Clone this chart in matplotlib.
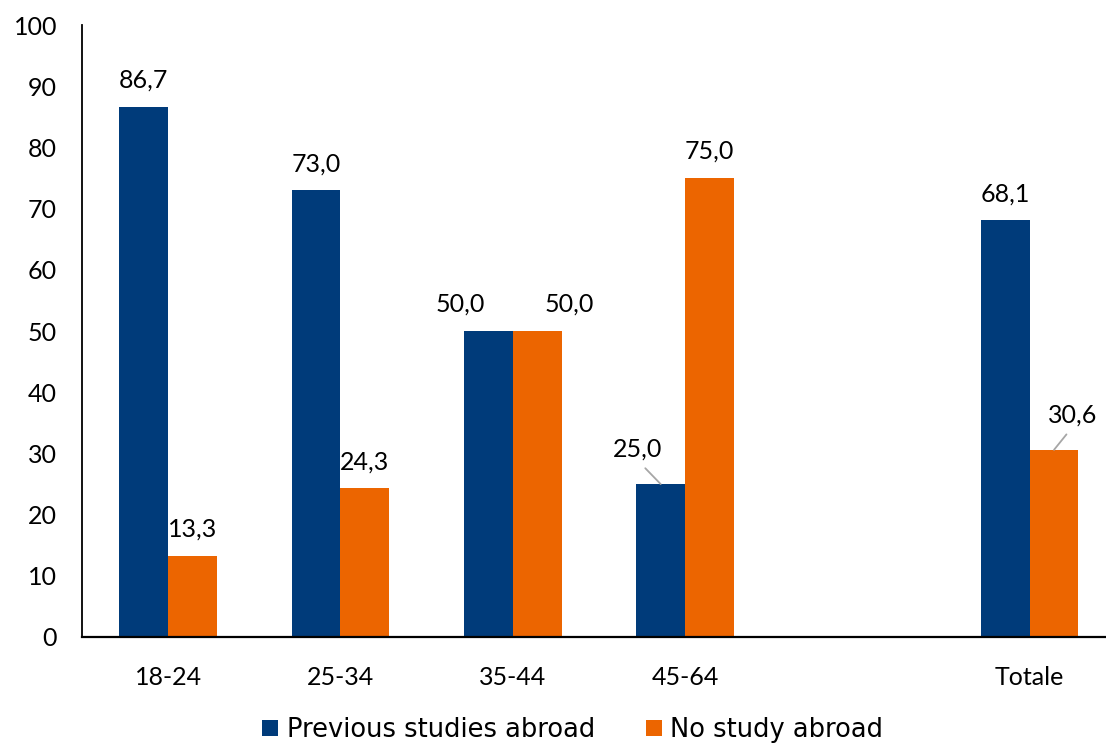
import matplotlib
matplotlib.use("Agg")
import matplotlib.pyplot as plt
import numpy as np

# Data: share (%) by age group, with an empty slot before the total
categories = ["18-24", "25-34", "35-44", "45-64", "", "Totale"]
previous_abroad = [86.7, 73.0, 50.0, 25.0, None, 68.1]
no_study_abroad = [13.3, 24.3, 50.0, 75.0, None, 30.6]
series_names = ["Previous studies abroad", "No study abroad"]
y_ticks = [0, 10, 20, 30, 40, 50, 60, 70, 80, 90, 100]

BLUE = "#003B7A"
ORANGE = "#EC6500"
FONT = "Lato"
FS = 18

plt.rcParams["font.family"] = [FONT, "DejaVu Sans"]

fig = plt.figure(figsize=(11.06, 7.45), dpi=100)
ax = fig.add_axes([82 / 1106, 108 / 745, 1024 / 1106, 611.7 / 745])

x = np.arange(len(categories))
width = 0.283


def fmt(v):
    return f"{v:.1f}".replace(".", ",")


def plot_series(values, offset, color, label):
    xs = [xi + offset for xi, v in zip(x, values) if v is not None]
    vs = [v for v in values if v is not None]
    return ax.bar(xs, vs, width=width, color=color, label=label, zorder=2)


bars_prev = plot_series(previous_abroad, -width / 2, BLUE, series_names[0])
bars_none = plot_series(no_study_abroad, width / 2, ORANGE, series_names[1])

ax.set_xlim(-0.5, -0.5 + 1024 / 172.3)
ax.set_ylim(0, 100)
ax.set_yticks(y_ticks)
ax.set_xticks(x)
ax.set_xticklabels(categories)
ax.tick_params(axis="y", length=0, pad=18, labelsize=FS)
ax.tick_params(axis="x", length=0, pad=21, labelsize=FS)

for side in ("top", "right"):
    ax.spines[side].set_visible(False)
ax.spines["left"].set_linewidth(1.3)
ax.spines["bottom"].set_linewidth(1.6)

# Label offsets in points (dx, dy); a True flag adds a grey leader line
label_offsets = {
    (0, 2): (-20, 11, False),
    (1, 2): (23, 11, False),
    (0, 3): (-16.5, 17, True),
    (1, 5): (13.7, 17, True),
}
for si, (bars, values) in enumerate([(bars_prev, previous_abroad), (bars_none, no_study_abroad)]):
    vals = [v for v in values if v is not None]
    idxs = [i for i, v in enumerate(values) if v is not None]
    for rect, v, ci in zip(bars, vals, idxs):
        cx = rect.get_x() + rect.get_width() / 2
        dx, dy, lead = label_offsets.get((si, ci), (0, 11, False))
        kw = {}
        if lead:
            kw["arrowprops"] = dict(arrowstyle="-", color="#A6A6A6", lw=1.3,
                                    shrinkA=5, shrinkB=0, relpos=(0.5, 0.0))
        ax.annotate(fmt(v), xy=(cx, v), xytext=(dx, dy), textcoords="offset points",
                    ha="center", va="bottom", fontsize=FS, **kw)

LEG_FS = 18.5
fig.legend(handles=[bars_prev, bars_none], labels=series_names,
           loc="center", bbox_to_anchor=(0.518, 0.020), ncol=2, frameon=False,
           prop={"family": ["DejaVu Sans"], "size": LEG_FS},
           handlelength=0.6, handleheight=0.6, handletextpad=0.34,
           columnspacing=2.0, borderaxespad=0, borderpad=0)

fig.savefig("out.png", dpi=100)
